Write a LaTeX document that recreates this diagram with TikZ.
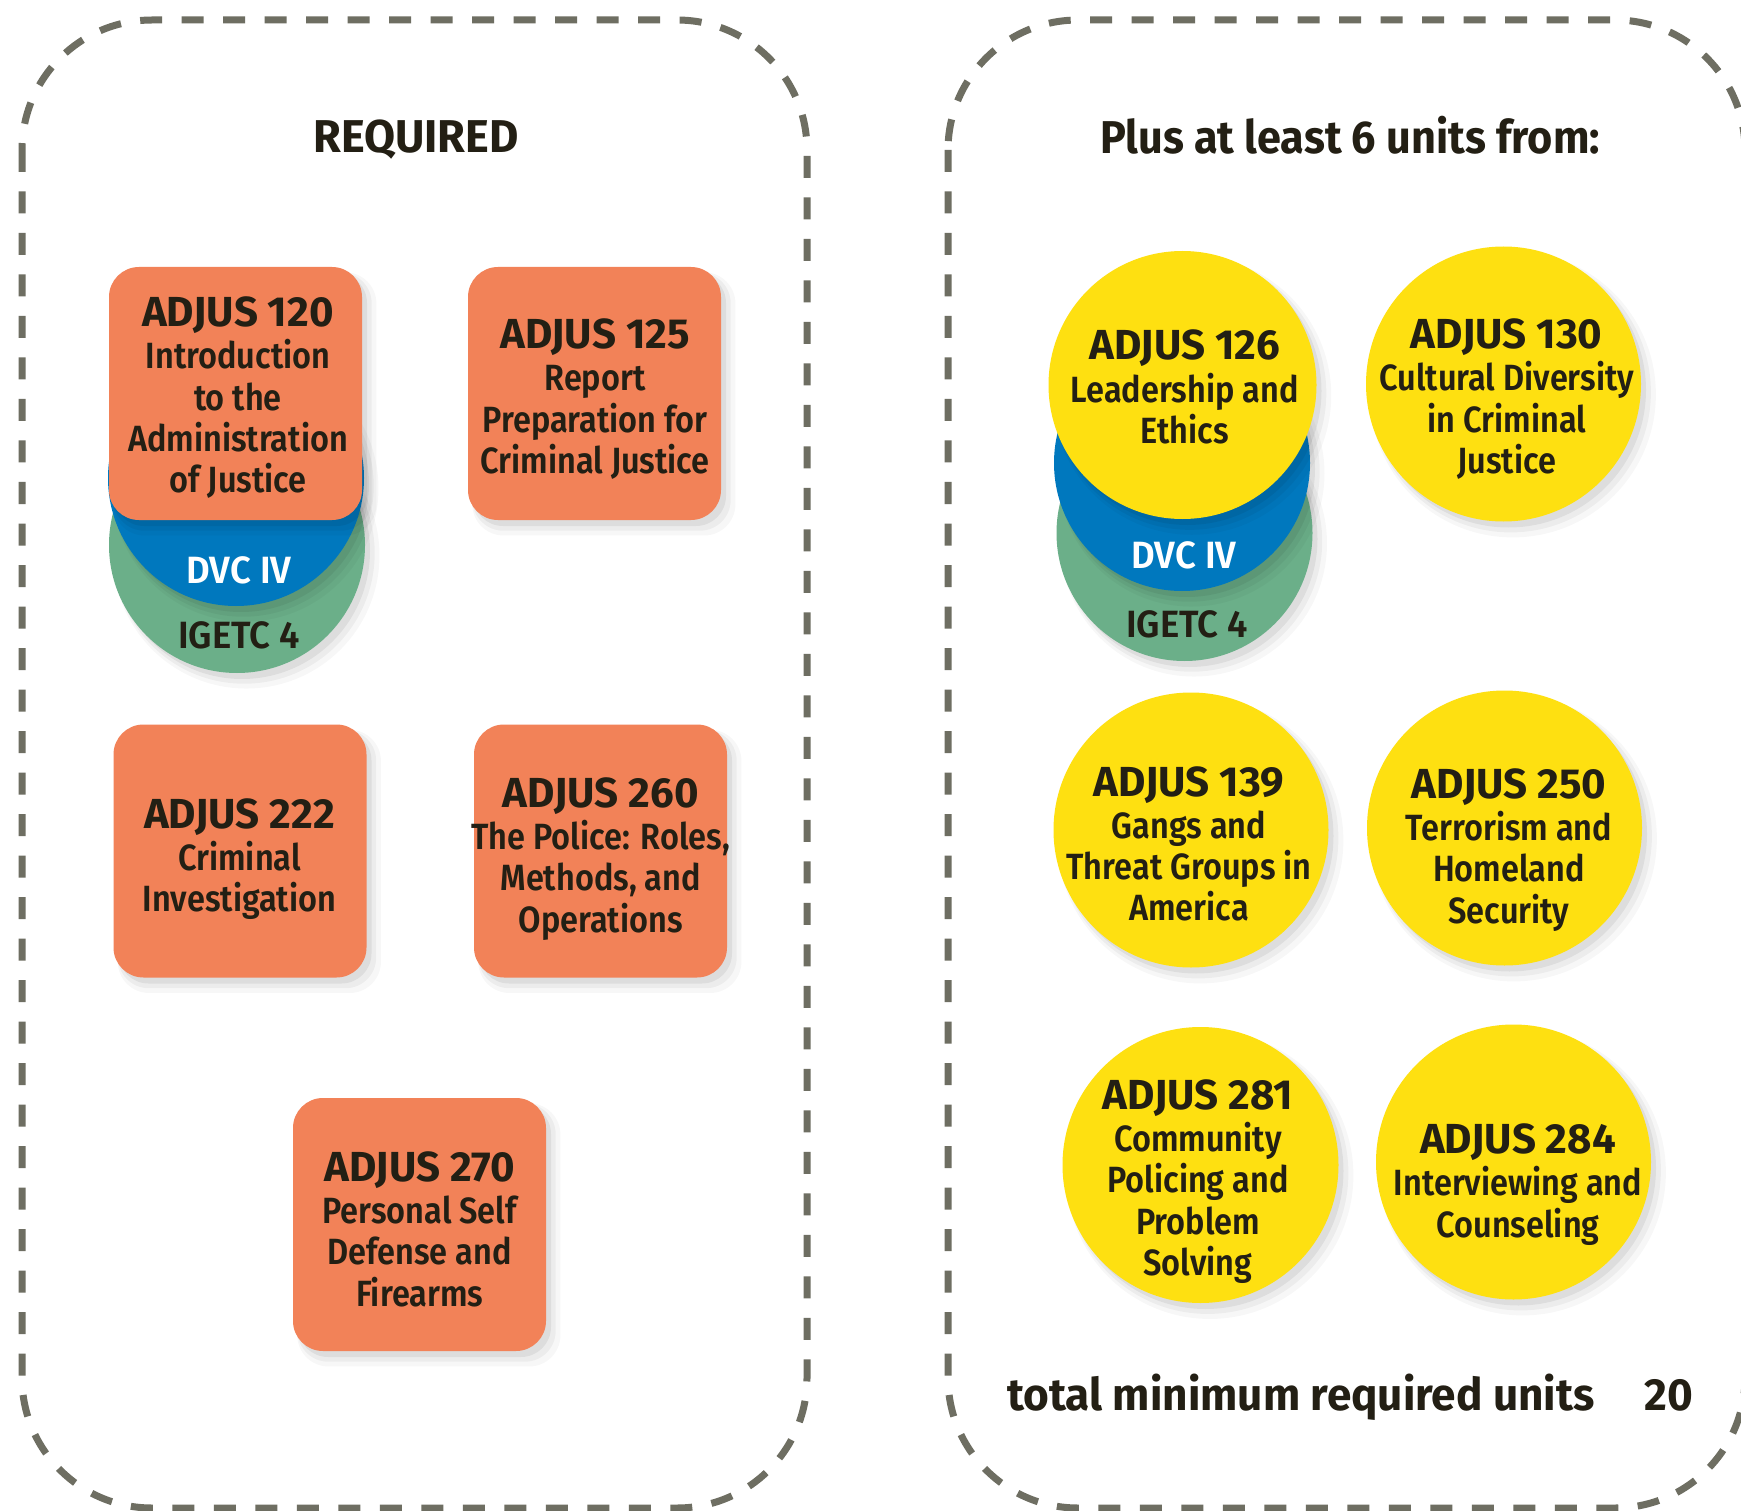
\documentclass[tikz,border=0pt]{standalone}
\usepackage{fontspec}
\usetikzlibrary{shadows}
\newfontfamily\ttlfont{Fira Sans Bold}[FakeStretch=1.0]
\newfontfamily\headfont{Fira Sans Bold}[FakeStretch=0.98]
\newfontfamily\plusfont{Fira Sans Bold}[FakeStretch=0.94]
\newfontfamily\bodfont{Fira Sans SemiBold}[FakeStretch=0.89]
\newfontfamily\tagfont{Fira Sans SemiBold}[FakeStretch=0.96]
\definecolor{orng}{HTML}{F28258}
\definecolor{yel}{HTML}{FEE011}
\definecolor{blu}{HTML}{0078BE}
\definecolor{grn}{HTML}{6BAF89}
\definecolor{dashc}{HTML}{6E6E62}
\definecolor{ink}{HTML}{231F14}
\newcommand{\crsttl}[1]{{\ttlfont\fontsize{42}{41.3}\selectfont #1}}
\tikzset{
  softshadow/.style={
    general shadow={shadow xshift=5pt,shadow yshift=-6pt,fill=black,opacity=0.06},
    general shadow={shadow xshift=7pt,shadow yshift=-8pt,shadow scale=1.02,fill=black,opacity=0.045},
    general shadow={shadow xshift=9pt,shadow yshift=-10pt,shadow scale=1.04,fill=black,opacity=0.03}},
  obox/.style={softshadow, fill=orng, rounded corners=30pt, minimum width=253pt, minimum height=253pt, inner sep=0pt},
  ycirc/.style={softshadow, circle, fill=yel, inner sep=0pt},
  bcirc/.style={softshadow, circle, fill=blu, inner sep=0pt, minimum size=256pt},
  gcirc/.style={softshadow, circle, fill=grn, inner sep=0pt, minimum size=256pt},
  ctext/.style={align=center, inner sep=0pt, text=ink, anchor=north, font=\bodfont\fontsize{36.5}{41.3}\selectfont},
  tag/.style={inner sep=0pt, font=\tagfont\fontsize{38}{40}\selectfont},
  head/.style={inner sep=0pt, text=ink, anchor=base, font=\headfont\fontsize{46}{48}\selectfont},
  dashbox/.style={draw=dashc, line width=7pt, dash pattern=on 22pt off 19.5pt, rounded corners=130pt}
}
\begin{document}
\begin{tikzpicture}[x=1pt,y=-1pt]
\useasboundingbox (0,0) rectangle (1741,1511);
\fill[white] (0,0) rectangle (1741,1511);
% panels
\draw[dashbox] (22,20) rectangle (807,1508);
\draw[dashbox] (948,20) rectangle (1745,1508);
\node[head] (hreq) at (416,152.5) {REQUIRED};
\node[head, font=\plusfont\fontsize{46}{48}\selectfont] (hplus) at (1350,154) {Plus at least 6 units from:};

% ADJUS 120 stack
\node[gcirc] (g120) at (237,545) {};
\node[bcirc] (bl120) at (236,478) {};
\node[obox] (b120) at (235.5,393.5) {};
\node[tag, text=white] (dvc120) at (239,570) {DVC IV};
\node[tag, text=ink] (ig120) at (239,635) {IGETC 4};
\node[ctext] (t120) at (238,296.4) {\crsttl{ADJUS 120}\\[1pt]Introduction\\to the\\Administration\\of Justice};

% ADJUS 125
\node[obox] (b125) at (594.5,393.5) {};
\node[ctext] (t125) at (595,318.5) {\crsttl{ADJUS 125}\\[1pt]Report\\Preparation for\\Criminal Justice};

% ADJUS 222
\node[obox] (b222) at (240,851) {};
\node[ctext] (t222) at (239.5,798.2) {\crsttl{ADJUS 222}\\[1pt]Criminal\\Investigation};

% ADJUS 260
\node[obox] (b260) at (600.5,851) {};
\node[ctext] (t260) at (600.7,777.1) {\crsttl{ADJUS 260}\\[1pt]The Police: Roles,\\Methods, and\\Operations};

% ADJUS 270
\node[obox] (b270) at (419.5,1224.5) {};
\node[ctext] (t270) at (419.7,1151.3) {\crsttl{ADJUS 270}\\[1pt]Personal Self\\Defense and\\Firearms};

% ADJUS 126 stack
\node[gcirc] (g126) at (1184.5,533) {};
\node[bcirc] (bl126) at (1182,463) {};
\node[ycirc, minimum size=268pt] (c126) at (1182.5,385) {};
\node[tag, text=white] (dvc126) at (1184,555) {DVC IV};
\node[tag, text=ink] (ig126) at (1187,624) {IGETC 4};
\node[ctext] (t126) at (1184.7,329.7) {\crsttl{ADJUS 126}\\[1pt]Leadership and\\Ethics};

% ADJUS 130
\node[ycirc, minimum size=275pt] (c130) at (1503.5,384) {};
\node[ctext] (t130) at (1506.7,318.5) {\crsttl{ADJUS 130}\\[1pt]Cultural Diversity\\in Criminal\\Justice};

% ADJUS 139
\node[ycirc, minimum size=275pt] (c139) at (1191,830) {};
\node[ctext] (t139) at (1189,766) {\crsttl{ADJUS 139}\\[1pt]Gangs and\\Threat Groups in\\America};

% ADJUS 250
\node[ycirc, minimum size=275pt] (c250) at (1504.5,828) {};
\node[ctext] (t250) at (1509,768.3) {\crsttl{ADJUS 250}\\[1pt]Terrorism and\\Homeland\\Security};

% ADJUS 281
\node[ycirc, minimum size=276pt] (c281) at (1200.5,1165) {};
\node[ctext] (t281) at (1198,1079.1) {\crsttl{ADJUS 281}\\[1pt]Community\\Policing and\\Problem\\Solving};

% ADJUS 284
\node[ycirc, minimum size=275pt] (c284) at (1513.5,1162) {};
\node[ctext] (t284) at (1518,1123.5) {\crsttl{ADJUS 284}\\[1pt]Interviewing and\\Counseling};

% total
\node[head, anchor=base west, font=\headfont\fontsize{45}{48}\selectfont] (tot) at (1007,1410) {total minimum required units};
\node[head, anchor=base east, font=\headfont\fontsize{45}{48}\selectfont] (num) at (1693,1410) {20};
\end{tikzpicture}
\end{document}
